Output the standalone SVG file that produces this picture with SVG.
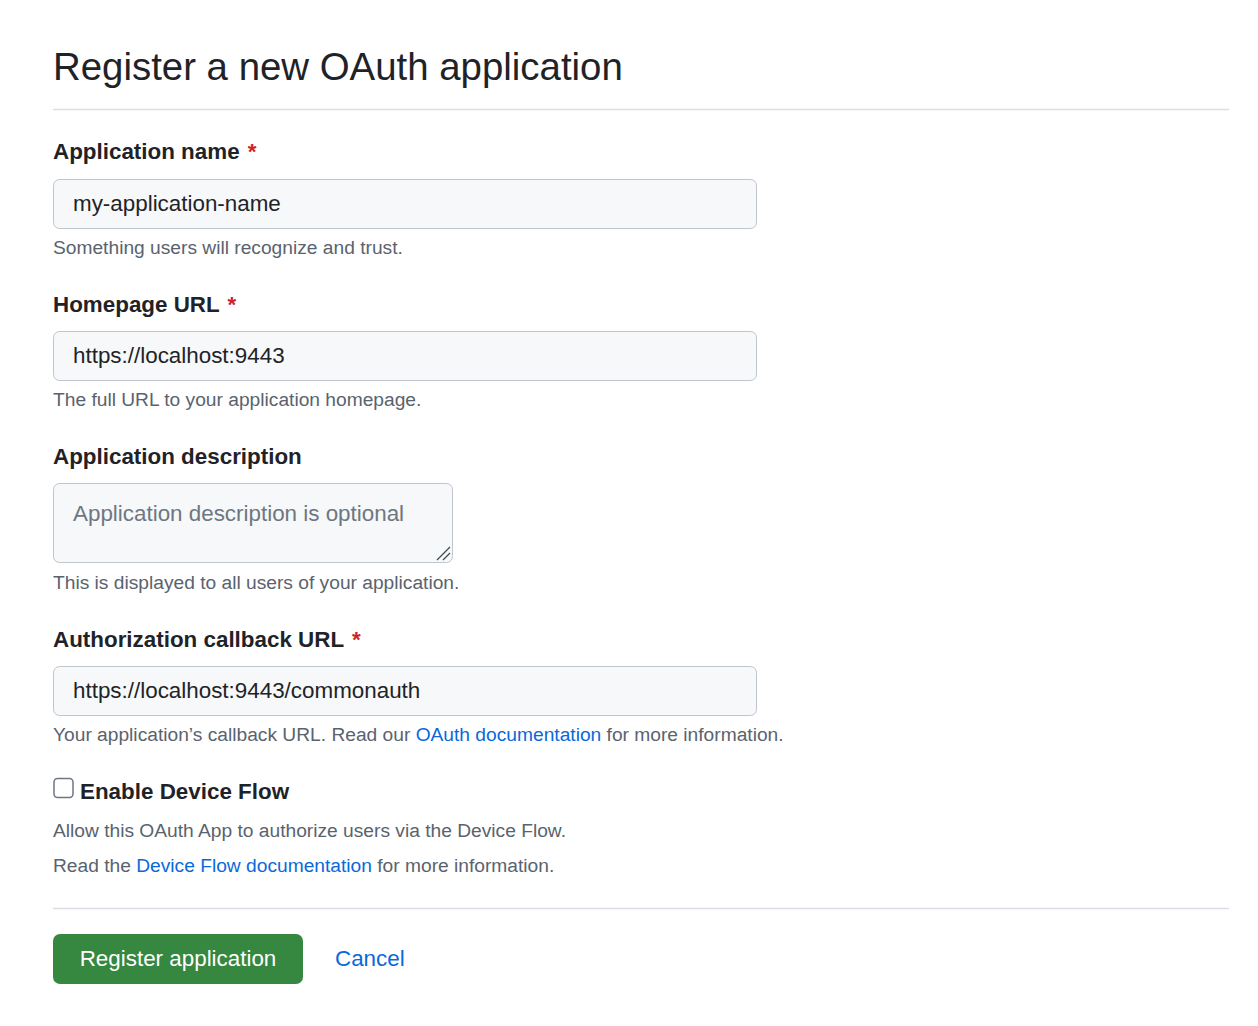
<svg xmlns="http://www.w3.org/2000/svg" width="1258" height="1026" viewBox="0 0 1258 1026">
<style>
text{font-family:"Liberation Sans",Arial,sans-serif}
.title{font-size:38.4px;fill:#1f2328}
.lbl{font-size:22.4px;font-weight:bold;fill:#1f2328}
.req{font-size:22.4px;font-weight:bold;fill:#cf222e}
.val{font-size:22.4px;fill:#1f2328}
.ph{font-size:22.4px;fill:#6e7781}
.note{font-size:19.2px;fill:#59636e}
.link{fill:#0969da}
.box{fill:#f6f8fa;stroke:#bfc5cc;stroke-width:1}
.hr{stroke:#d8dee4;stroke-width:1.5}
</style>
<rect width="1258" height="1026" fill="#ffffff"/>
<g id="title">
<text class="title" x="53" y="80">Register a new OAuth application</text>
<line class="hr" x1="53" y1="109.5" x2="1229" y2="109.5"/>
</g>
<g id="app-name">
<text class="lbl" x="53" y="159">Application name <tspan class="req" dx="2">*</tspan></text>
<rect class="box" x="53.5" y="179.5" width="703" height="49" rx="6"/>
<text class="val" x="73" y="211">my-application-name</text>
<text class="note" x="53" y="254">Something users will recognize and trust.</text>
</g>
<g id="homepage">
<text class="lbl" x="53" y="312">Homepage URL <tspan class="req" dx="2">*</tspan></text>
<rect class="box" x="53.5" y="331.5" width="703" height="49" rx="6"/>
<text class="val" x="73" y="363">https://localhost:9443</text>
<text class="note" x="53" y="406">The full URL to your application homepage.</text>
</g>
<g id="description">
<text class="lbl" x="53" y="464">Application description</text>
<rect class="box" x="53.5" y="483.5" width="399" height="79" rx="6"/>
<text class="ph" x="73" y="521">Application description is optional</text>
<path d="M437 560 L450 547 M443 560 L450 553" stroke="#424a53" stroke-width="1.3" fill="none"/>
<text class="note" x="53" y="589">This is displayed to all users of your application.</text>
</g>
<g id="callback">
<text class="lbl" x="53" y="647">Authorization callback URL <tspan class="req" dx="2">*</tspan></text>
<rect class="box" x="53.5" y="666.5" width="703" height="49" rx="6"/>
<text class="val" x="73" y="698">https://localhost:9443/commonauth</text>
<text class="note" x="53" y="741">Your application’s callback URL. Read our <tspan class="link">OAuth documentation</tspan> for more information.</text>
</g>
<g id="device-flow">
<rect x="54" y="778.5" width="19" height="19" rx="3.5" fill="#ffffff" stroke="#6e7781" stroke-width="1.5"/>
<text class="lbl" x="80" y="799">Enable Device Flow</text>
<text class="note" x="53" y="837">Allow this OAuth App to authorize users via the Device Flow.</text>
<text class="note" x="53" y="872">Read the <tspan class="link">Device Flow documentation</tspan> for more information.</text>
</g>
<line class="hr" x1="53" y1="908.5" x2="1229" y2="908.5"/>
<g id="register-button">
<rect x="53" y="934" width="250" height="50" rx="7" fill="#36873f"/>
<text x="178" y="966" text-anchor="middle" style="font-size:22.4px;fill:#ffffff">Register application</text>
</g>
<g id="cancel">
<text x="335" y="966" style="font-size:22.4px;fill:#0969da">Cancel</text>
</g>
</svg>
